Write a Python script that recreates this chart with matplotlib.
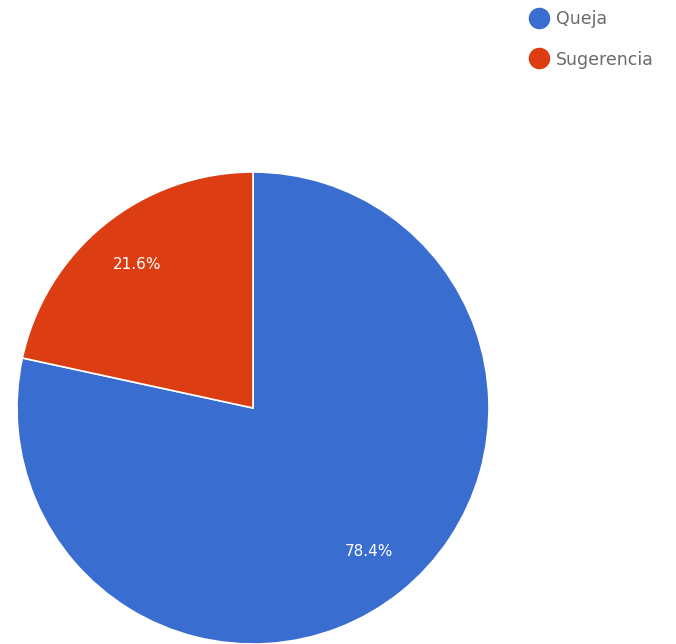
import matplotlib
matplotlib.use("Agg")
import matplotlib.pyplot as plt
from matplotlib.lines import Line2D

categories = ["Queja", "Sugerencia"]
shares = [78.4, 21.6]
colors = ["#3a6dd0", "#dc3d12"]

plt.rcParams['font.family'] = ['DejaVu Sans']

W, H = 676, 644
fig = plt.figure(figsize=(W / 100, H / 100), dpi=100)
ax = fig.add_axes([0, 0, 1, 1])

wedges, texts, autotexts = ax.pie(
    shares, colors=colors, startangle=90, counterclock=False,
    center=(253, H - 408), radius=236, autopct='%.1f%%', pctdistance=0.78,
    wedgeprops=dict(edgecolor='white', linewidth=1.2),
    textprops=dict(color='white', fontsize=11),
    frame=True,
)
ax.set_xlim(0, W)
ax.set_ylim(0, H)
ax.set_aspect('equal')
ax.axis('off')

# legend markers are round dots, text in grey to the right
handles = [Line2D([], [], marker='o', linestyle='none', markersize=14.5,
                  markerfacecolor=c, markeredgecolor=c) for c in colors]
ax.legend(handles, categories, loc='upper left', bbox_to_anchor=(529 / W, 1 - 10 / H),
          frameon=False, fontsize=12.5, labelcolor='#6a6a6a', labelspacing=1.3,
          handletextpad=0.45, handlelength=1.1, borderaxespad=0, borderpad=0)

fig.savefig('out.png', dpi=100)
